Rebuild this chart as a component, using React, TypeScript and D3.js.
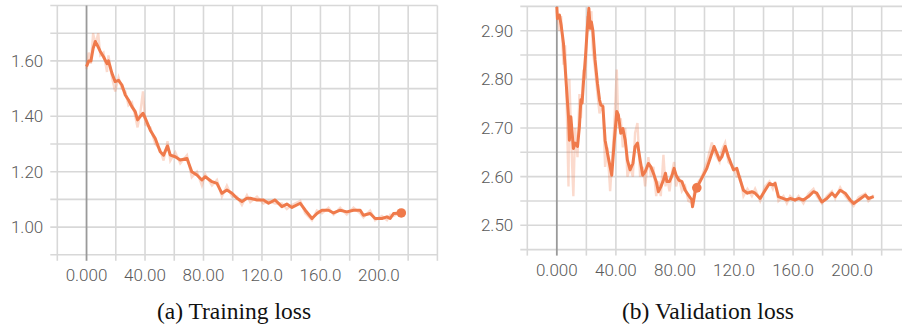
import React from 'react';
import * as d3 from 'd3';

// training loss, smoothed curve [step, loss]
const trainSmooth: [number, number][] = [
  [0, 1.58], [1.5, 1.6], [3, 1.6], [4.5, 1.645], [6, 1.67], [8, 1.65], [9.4, 1.634], [11.6, 1.615],
  [14, 1.59], [15, 1.6], [17.4, 1.555], [19.6, 1.525], [21.9, 1.53], [24.2, 1.513], [26.5, 1.477],
  [28.7, 1.459], [31, 1.435], [33.3, 1.417], [34.9, 1.387], [36.7, 1.399], [38.6, 1.411], [40.2, 1.393],
  [43.6, 1.35], [47, 1.32], [50.4, 1.272], [52.7, 1.26], [55.4, 1.293], [57.3, 1.26], [60.7, 1.254],
  [64.1, 1.242], [68.7, 1.248], [72, 1.2], [75.5, 1.188], [78.9, 1.17], [81.2, 1.182], [85.8, 1.164],
  [89.2, 1.158], [92.6, 1.122], [96, 1.134], [99.5, 1.122], [102.9, 1.104], [106.3, 1.092],
  [109.7, 1.104], [112, 1.104], [116.6, 1.098], [121, 1.098], [124.5, 1.086], [129, 1.098],
  [133.6, 1.074], [137, 1.083], [140.5, 1.071], [146.2, 1.086], [149.6, 1.061], [154.2, 1.031],
  [157.6, 1.049], [161, 1.061], [165.5, 1.061], [169, 1.051], [173.5, 1.061], [178, 1.055],
  [182.6, 1.061], [187.2, 1.061], [189.4, 1.043], [194, 1.049], [197.4, 1.031], [202, 1.031],
  [205.5, 1.037], [207.7, 1.031], [210, 1.049], [215.3, 1.051]
];

// training loss, raw values (faint line)
const trainRaw: [number, number][] = [
  [0, 1.57], [1.5, 1.63], [3, 1.59], [4.5, 1.7], [6, 1.66], [8, 1.7], [9.4, 1.62], [11.6, 1.63],
  [14, 1.56], [15, 1.62], [17.4, 1.54], [19.6, 1.49], [21.9, 1.54], [24.2, 1.5], [26.5, 1.49],
  [28.7, 1.44], [31, 1.45], [33.3, 1.4], [34.9, 1.36], [36.7, 1.41], [38.6, 1.49], [40.2, 1.37],
  [43.6, 1.36], [47, 1.3], [50.4, 1.28], [52.7, 1.24], [55.4, 1.31], [57.3, 1.24], [60.7, 1.27],
  [64.1, 1.23], [68.7, 1.26], [72, 1.18], [75.5, 1.2], [78.9, 1.15], [81.2, 1.19], [85.8, 1.15],
  [89.2, 1.17], [92.6, 1.11], [96, 1.15], [99.5, 1.11], [102.9, 1.11], [106.3, 1.08],
  [109.7, 1.115], [112, 1.09], [116.6, 1.11], [121, 1.085], [124.5, 1.095], [129, 1.085],
  [133.6, 1.085], [137, 1.065], [140.5, 1.08], [146.2, 1.095], [149.6, 1.05], [154.2, 1.025],
  [157.6, 1.06], [161, 1.05], [165.5, 1.07], [169, 1.045], [173.5, 1.07], [178, 1.045],
  [182.6, 1.07], [187.2, 1.05], [189.4, 1.035], [194, 1.06], [197.4, 1.025], [202, 1.04],
  [205.5, 1.025], [207.7, 1.045], [210, 1.04], [215.3, 1.055]
];

// validation loss, smoothed curve
const valSmooth: [number, number][] = [
  [0, 2.949], [0.4, 2.925], [1.8, 2.932], [2.9, 2.912], [4.5, 2.874], [5.6, 2.826], [6.8, 2.771],
  [7.9, 2.723], [8.5, 2.675], [9.5, 2.723], [10.4, 2.689], [11.2, 2.658], [12.4, 2.669], [14, 2.662],
  [15.3, 2.703], [16.3, 2.758], [17.1, 2.751], [18, 2.792], [19.4, 2.847], [20.7, 2.908], [21.7, 2.946],
  [22.6, 2.905], [23.4, 2.918], [24.4, 2.901], [25.9, 2.84], [27.5, 2.792], [28.9, 2.758], [29.8, 2.747],
  [31.2, 2.744], [32.7, 2.675], [34.3, 2.648], [36.1, 2.62], [37.2, 2.603], [38.8, 2.669], [40.6, 2.734],
  [41.7, 2.727], [43.3, 2.689], [44.7, 2.699], [46.3, 2.675], [47.8, 2.634], [49.6, 2.614], [51.5, 2.627],
  [53, 2.662], [54.6, 2.669], [56.4, 2.634], [58.2, 2.603], [59.8, 2.61], [62, 2.627], [63.7, 2.62],
  [65.4, 2.607], [67.3, 2.59], [68.8, 2.569], [70.4, 2.579], [72.2, 2.593], [73.6, 2.607], [74.5, 2.59],
  [76.3, 2.59], [78.1, 2.603], [79.4, 2.617], [80.8, 2.603], [82.6, 2.593], [84.7, 2.59], [86.9, 2.572],
  [89.1, 2.562], [91.4, 2.552], [91.9, 2.538], [93.7, 2.569], [94.8, 2.577], [98.2, 2.597],
  [101.6, 2.617], [105, 2.648], [106.5, 2.662], [108.4, 2.648], [110.2, 2.634], [111.8, 2.641],
  [114, 2.662], [116.2, 2.641], [119.6, 2.614], [121.9, 2.617], [124.2, 2.593], [126.4, 2.572],
  [129.1, 2.566], [132.1, 2.569], [134.3, 2.566], [137.7, 2.555], [141.1, 2.572], [144, 2.586],
  [146.3, 2.583], [147.8, 2.586], [150.1, 2.559], [153.5, 2.555], [155.8, 2.552], [158, 2.555],
  [161.4, 2.552], [163.7, 2.555], [167, 2.552], [170.4, 2.559], [173.8, 2.569], [176.1, 2.566],
  [179.5, 2.548], [182.9, 2.555], [186.3, 2.566], [188.5, 2.559], [191.9, 2.572], [195.3, 2.566],
  [198.7, 2.552], [201, 2.545], [204.4, 2.552], [208.9, 2.562], [211, 2.555], [214.6, 2.559]
];

// validation loss, raw values (faint line)
const valRaw: [number, number][] = [
  [0, 2.94], [1.8, 2.9], [2.9, 2.93], [4.5, 2.83], [5.6, 2.87], [6.3, 2.8], [7.9, 2.58], [8.5, 2.8],
  [10.4, 2.62], [11.2, 2.56], [12.4, 2.7], [14, 2.64], [15.3, 2.77], [16.3, 2.72], [18, 2.82],
  [19.4, 2.8], [20.7, 2.93], [21.7, 2.9], [23.4, 2.94], [24.4, 2.86], [25.9, 2.82], [27.5, 2.77],
  [28.9, 2.73], [31.2, 2.75], [32.7, 2.62], [34.3, 2.66], [36.1, 2.57], [37.2, 2.62], [38.8, 2.7],
  [40.6, 2.82], [41.7, 2.7], [43.3, 2.72], [44.7, 2.66], [46.3, 2.7], [47.8, 2.6], [49.6, 2.62],
  [51.5, 2.6], [53, 2.69], [54.6, 2.71], [56.4, 2.6], [58.2, 2.62], [59.8, 2.58], [62, 2.64],
  [63.7, 2.6], [65.4, 2.62], [67.3, 2.56], [68.8, 2.59], [70.4, 2.56], [72.2, 2.645], [73.6, 2.58],
  [74.5, 2.6], [76.3, 2.57], [78.1, 2.61], [79.4, 2.63], [80.8, 2.58], [82.6, 2.6], [84.7, 2.57],
  [86.9, 2.58], [89.1, 2.55], [91.9, 2.545], [93.7, 2.58], [96, 2.59], [98.2, 2.6], [101.6, 2.63],
  [105, 2.67], [106.5, 2.65], [108.4, 2.64], [110.2, 2.63], [111.8, 2.655], [114, 2.67],
  [116.2, 2.63], [119.6, 2.62], [121.9, 2.6], [124.2, 2.6], [126.4, 2.56], [129.1, 2.575],
  [132.1, 2.56], [134.3, 2.575], [137.7, 2.55], [141.1, 2.58], [144, 2.59], [146.3, 2.575],
  [147.8, 2.59], [150.1, 2.55], [153.5, 2.56], [155.8, 2.545], [158, 2.56], [161.4, 2.55],
  [163.7, 2.56], [167, 2.545], [170.4, 2.565], [173.8, 2.575], [176.1, 2.56], [179.5, 2.545],
  [182.9, 2.56], [186.3, 2.57], [188.5, 2.555], [191.9, 2.578], [195.3, 2.56], [198.7, 2.548],
  [201, 2.54], [204.4, 2.558], [208.9, 2.565], [211, 2.55], [214.6, 2.562]
];

const xTicks = [0, 40, 80, 120, 160, 200];
const trainYTicks = [1.0, 1.2, 1.4, 1.6];
const valYTicks = [2.5, 2.6, 2.7, 2.8, 2.9];
const trainDot: [number, number] = [215.3, 1.051];
const valDot: [number, number] = [94.8, 2.577];

const LINE = '#ef7a4b';
const GRID = '#d8d8d8';

type PanelProps = {
  id: string;
  left: number;
  right: number;
  top: number;
  bottom: number;
  yDomain: [number, number];
  yGridStep: number;
  yTicks: number[];
  smooth: [number, number][];
  raw: [number, number][];
  dot: [number, number];
  caption: string;
  captionX: number;
};

const Panel = (p: PanelProps) => {
  const x = d3.scaleLinear().domain([-20, 240]).range([p.left, p.right]);
  const y = d3.scaleLinear().domain(p.yDomain).range([p.bottom, p.top]);
  const xGrid = d3.range(-20, 241, 20);
  const n = Math.round((p.yDomain[1] - p.yDomain[0]) / p.yGridStep);
  const yGrid = d3.range(0, n + 1).map(i => p.yDomain[0] + i * p.yGridStep);
  const line = d3.line<[number, number]>().x(d => x(d[0])).y(d => y(d[1]));
  const fx = d3.format('.4r');
  const fy = d3.format('.2f');

  return (
    <g>
      <defs>
        <clipPath id={p.id}>
          <rect x={p.left} y={p.top - 2} width={p.right - p.left} height={p.bottom - p.top + 2} />
        </clipPath>
      </defs>
      {yGrid.map(v => (
        <line key={'h' + v} x1={p.left - 7} x2={p.right} y1={y(v)} y2={y(v)} stroke={GRID} strokeWidth={1.6} />
      ))}
      {xGrid.map(v => (
        <line key={'v' + v} x1={x(v)} x2={x(v)} y1={p.top} y2={p.bottom + 6}
          stroke={v === 0 ? '#9a9a9a' : GRID} strokeWidth={v === 0 ? 1.8 : 1.6} />
      ))}
      {p.yTicks.map(v => (
        <text key={'yl' + v} x={p.left - 14} y={y(v)} dy="0.36em" textAnchor="end"
          fontFamily="Roboto, 'Liberation Sans', sans-serif" fontWeight={300} fontSize={17} fill="#5a5a5a">
          {fy(v)}
        </text>
      ))}
      {xTicks.map(v => (
        <text key={'xl' + v} x={x(v)} y={p.bottom + 26} textAnchor="middle"
          fontFamily="Roboto, 'Liberation Sans', sans-serif" fontWeight={300} fontSize={17} fill="#5a5a5a">
          {fx(v)}
        </text>
      ))}
      <g clipPath={`url(#${p.id})`}>
        <path d={line(p.raw) || ''} fill="none" stroke={LINE} strokeOpacity={0.28} strokeWidth={2.4} />
        <path d={line(p.smooth) || ''} fill="none" stroke={LINE} strokeWidth={3} strokeLinejoin="round" />
        <circle cx={x(p.dot[0])} cy={y(p.dot[1])} r={4.8} fill={LINE} />
      </g>
      <text x={p.captionX} y={319} textAnchor="middle" fontFamily="'Liberation Serif', 'Times New Roman', serif"
        fontSize={23.5} fill="#111">
        {p.caption}
      </text>
    </g>
  );
};

export default function App() {
  return (
    <svg width={902} height={330} style={{ position: 'absolute', left: 0, top: 0, background: '#fff' }}>
      <rect width={902} height={330} fill="#fff" />
      <Panel id="clipA" left={57.3} right={437.4} top={5.5} bottom={254.8} yDomain={[0.9, 1.8]} yGridStep={0.1}
        yTicks={trainYTicks} smooth={trainSmooth} raw={trainRaw} dot={trainDot}
        caption="(a) Training loss" captionX={234} />
      <Panel id="clipB" left={527.3} right={911.2} top={6.4} bottom={249.6} yDomain={[2.45, 2.95]} yGridStep={0.05}
        yTicks={valYTicks} smooth={valSmooth} raw={valRaw} dot={valDot}
        caption="(b) Validation loss" captionX={708} />
    </svg>
  );
}
